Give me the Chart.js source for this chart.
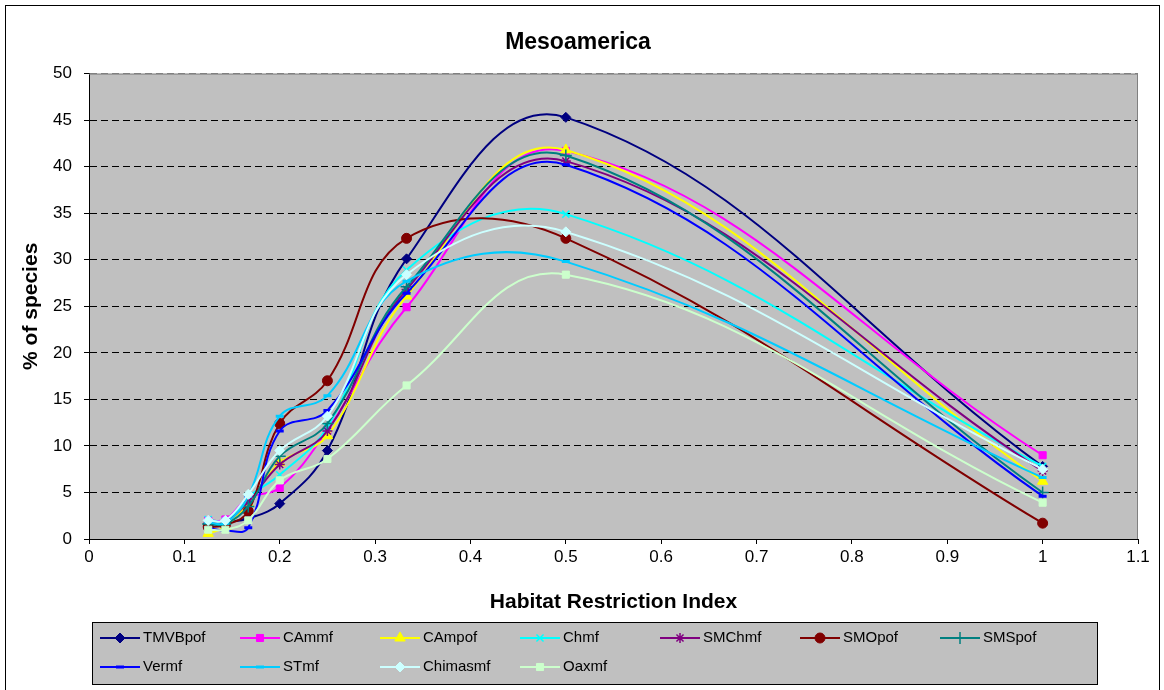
<!DOCTYPE html>
<html lang="en">
<head>
<meta charset="UTF-8">
<title>Mesoamerica</title>
<script src="https://cdn.jsdelivr.net/npm/chart.js"></script>
<style>
  html, body { margin: 0; padding: 0; background: #fff; }
</style>
</head>
<body>
<canvas id="myChart" width="1164" height="690"></canvas>
<script>
// Habitat Restriction Index (x) and % of species for each forest type
var indice   = [0.125, 0.143, 0.167, 0.2, 0.25, 0.333, 0.5, 1];
var TMVBpof  = [1.5, 1.8, 2.2, 3.8, 9.5, 30.1, 45.3, 7.8];
var CAmmf    = [2.0, 2.1, 4.4, 5.5, 11.7, 24.9, 41.7, 9.0];
var CAmpof   = [0.6, 1.3, 3.8, 8.2, 11.1, 26.1, 41.8, 6.2];
var Chmf     = [2.1, 1.9, 4.5, 6.9, 12.0, 28.9, 34.9, 7.8];
var SMChmf   = [1.7, 1.8, 4.0, 8.0, 11.6, 26.8, 40.6, 7.3];
var SMOpof   = [1.3, 1.5, 3.0, 12.4, 17.0, 32.3, 32.3, 1.7];
var SMSpof   = [1.6, 1.6, 3.5, 8.9, 12.4, 27.1, 41.2, 5.0];
var Vermf    = [1.2, 0.9, 1.2, 11.6, 13.8, 26.4, 40.2, 4.6];
var STmf     = [1.8, 1.7, 4.6, 13.2, 15.4, 27.7, 29.8, 6.6];
var Chimasmf = [2.0, 2.0, 4.8, 9.5, 13.2, 28.4, 33.0, 7.5];
var Oaxmf    = [1.0, 1.0, 2.0, 6.3, 8.6, 16.5, 28.4, 3.9];

var FONT = "'Liberation Sans', Arial, sans-serif";

function serie(nome, valori, colore, stile, raggio, bordo) {
    return {
        label: nome,
        data: indice.map(function (x, i) { return {x: x, y: valori[i]}; }),
        borderColor: colore,
        backgroundColor: colore,
        pointStyle: stile,
        pointRadius: raggio,
        pointHoverRadius: raggio,
        pointBorderWidth: bordo,
        borderWidth: 2,
        showLine: true,
        tension: 0.4,
        fill: false
    };
}

var serie_dati = [
    serie('TMVBpof', TMVBpof, '#000080', 'rectRot', 5, 1),
    serie('CAmmf', CAmmf, '#ff00ff', 'rect', 5, 1),
    serie('CAmpof', CAmpof, '#ffff00', 'triangle', 6, 1),
    serie('Chmf', Chmf, '#00ffff', 'crossRot', 5, 1.5),
    serie('SMChmf', SMChmf, '#800080', 'star', 5, 1.5),
    serie('SMOpof', SMOpof, '#800000', 'circle', 5, 1),
    serie('SMSpof', SMSpof, '#008080', 'cross', 6, 1.5),
    serie('Vermf', Vermf, '#0000ff', 'line', 4, 3),
    serie('STmf', STmf, '#00ccff', 'line', 4, 3),
    serie('Chimasmf', Chimasmf, '#ccffff', 'rectRot', 5, 1),
    serie('Oaxmf', Oaxmf, '#ccffcc', 'rect', 5, 1)
];
// later series are painted on top
serie_dati.forEach(function (ds, i) { ds.order = serie_dati.length - i; });

// white page, outer frame and grey plot area
var sfondo = {
    id: 'sfondo',
    beforeDraw: function (chart) {
        var ctx = chart.ctx, a = chart.chartArea;
        ctx.save();
        ctx.fillStyle = '#ffffff';
        ctx.fillRect(0, 0, chart.width, chart.height);
        ctx.strokeStyle = '#000000';
        ctx.lineWidth = 1;
        ctx.strokeRect(5.5, 5.5, 1154, 700);
        ctx.fillStyle = '#c0c0c0';
        ctx.fillRect(a.left, a.top, a.right - a.left, a.bottom - a.top);
        ctx.restore();
    },
    beforeDatasetsDraw: function (chart) {
        var ctx = chart.ctx, a = chart.chartArea;
        ctx.save();
        ctx.strokeStyle = '#808080';
        ctx.lineWidth = 1;
        ctx.beginPath();
        ctx.moveTo(a.left, a.top + 0.5);
        ctx.lineTo(a.right - 0.5, a.top + 0.5);
        ctx.lineTo(a.right - 0.5, a.bottom);
        ctx.stroke();
        ctx.restore();
    }
};

// legend laid out in a fixed grid of 7 columns
var legenda = {
    id: 'legenda',
    afterDraw: function (chart) {
        var ctx = chart.ctx;
        ctx.save();
        ctx.fillStyle = '#c0c0c0';
        ctx.fillRect(92, 622, 1005, 62);
        ctx.strokeStyle = '#000000';
        ctx.lineWidth = 1;
        ctx.strokeRect(92.5, 622.5, 1005, 62);
        ctx.font = '15px ' + FONT;
        ctx.textBaseline = 'middle';
        ctx.textAlign = 'left';
        chart.data.datasets.forEach(function (ds, i) {
            var x = 100 + (i % 7) * 140;
            var y = 638 + Math.floor(i / 7) * 29;
            ctx.strokeStyle = ds.borderColor;
            ctx.lineWidth = 2;
            ctx.beginPath();
            ctx.moveTo(x, y);
            ctx.lineTo(x + 40, y);
            ctx.stroke();
            ctx.fillStyle = ds.backgroundColor;
            ctx.lineWidth = ds.pointBorderWidth;
            if (Chart.helpers && Chart.helpers.drawPoint) {
                Chart.helpers.drawPoint(ctx, {
                    pointStyle: ds.pointStyle, rotation: 0,
                    radius: ds.pointRadius, borderWidth: ds.pointBorderWidth
                }, x + 20, y);
            }
            ctx.fillStyle = '#000000';
            ctx.fillText(ds.label, x + 43, y);
        });
        ctx.restore();
    }
};

var grafico = document.getElementById('myChart').getContext('2d');
var myChart = new Chart(grafico, {
    type: 'scatter',
    data: { datasets: serie_dati },
    plugins: [sfondo, legenda],
    options: {
        responsive: false,
        animation: false,
        layout: { padding: { left: 18, right: 26, top: 0, bottom: 73 } },
        plugins: {
            legend: { display: false },
            tooltip: { enabled: false },
            title: {
                display: true,
                text: 'Mesoamerica',
                color: '#000',
                font: { family: FONT, size: 23, weight: 'bold' },
                padding: { top: 29, bottom: 17 }
            }
        },
        scales: {
            x: {
                type: 'linear',
                min: 0,
                max: 1.1,
                afterFit: function (scale) { scale.height = 78; },
                ticks: {
                    stepSize: 0.1,
                    color: '#000',
                    padding: 3,
                    font: { family: FONT, size: 17 },
                    callback: function (v) { return String(Math.round(v * 10) / 10); }
                },
                grid: { drawOnChartArea: false, drawTicks: true, tickLength: 5, tickColor: '#000' },
                border: { color: '#000', width: 1 },
                title: {
                    display: true,
                    text: 'Habitat Restriction Index',
                    color: '#000',
                    font: { family: FONT, size: 21, weight: 'bold' },
                    padding: { top: 0, bottom: 2 }
                }
            },
            y: {
                min: 0,
                max: 50,
                afterFit: function (scale) { scale.width = 71; },
                ticks: { stepSize: 5, color: '#000', padding: 12, font: { family: FONT, size: 17 } },
                grid: {
                    drawTicks: true,
                    tickLength: 5,
                    tickColor: '#000',
                    tickBorderDash: [],
                    color: function (c) { return c.tick && c.tick.value === 50 ? '#808080' : '#000'; }
                },
                border: { color: '#000', width: 1, dash: [7, 4] },
                title: {
                    display: true,
                    text: '% of species',
                    color: '#000',
                    font: { family: FONT, size: 21, weight: 'bold' },
                    padding: { top: 1, bottom: 0 }
                }
            }
        }
    }
});
</script>
</body>
</html>
